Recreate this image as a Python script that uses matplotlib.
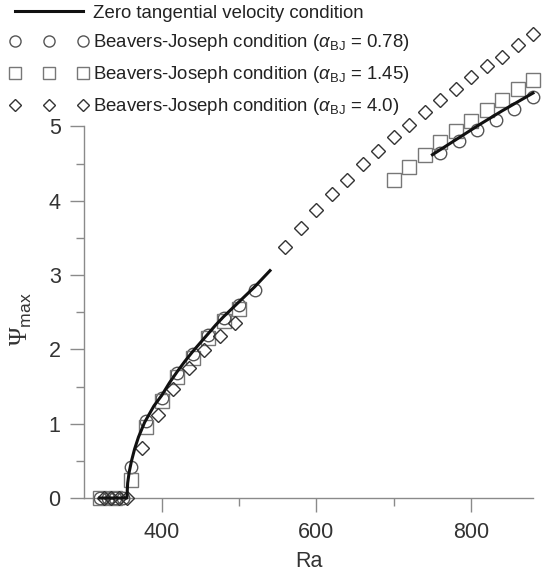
import numpy as np
import matplotlib.pyplot as plt
from matplotlib.lines import Line2D

plt.rcParams['font.family'] = ['Liberation Sans', 'DejaVu Sans']
plt.rcParams['mathtext.fontset'] = 'custom'
plt.rcParams['mathtext.rm'] = 'Liberation Sans'
plt.rcParams['mathtext.it'] = 'Liberation Sans:italic'
plt.rcParams['mathtext.sf'] = 'Liberation Serif'

# zero tangential velocity condition (solid curves)
ra_line_low = [320, 355, 356, 358, 361, 365, 370, 378, 390, 400, 410, 420, 430, 440,
               450, 460, 470, 480, 490, 500, 510, 520, 530, 540]
psi_line_low = [0, 0, 0.20, 0.35, 0.50, 0.66, 0.82, 1.02, 1.24, 1.38, 1.55, 1.70, 1.84, 1.97,
                2.09, 2.21, 2.33, 2.44, 2.54, 2.64, 2.74, 2.84, 2.95, 3.06]
ra_line_high = [750, 780, 810, 840, 880]
psi_line_high = [4.62, 4.82, 5.02, 5.21, 5.45]

# Beavers-Joseph, alpha = 0.78 (circles)
ra_c = [320, 330, 340, 350, 360, 380, 400, 420, 440, 460, 480, 500, 520,
        760, 784, 808, 832, 856, 880]
psi_c = [0, 0, 0, 0, 0.42, 1.03, 1.35, 1.68, 1.94, 2.19, 2.42, 2.60, 2.80,
         4.64, 4.80, 4.95, 5.09, 5.23, 5.40]

# Beavers-Joseph, alpha = 1.45 (squares)
ra_s = [320, 340, 360, 380, 400, 420, 440, 460, 480, 500,
        700, 720, 740, 760, 780, 800, 820, 840, 860, 880]
psi_s = [0, 0, 0.24, 0.96, 1.30, 1.63, 1.89, 2.15, 2.38, 2.54,
         4.28, 4.45, 4.62, 4.79, 4.94, 5.08, 5.22, 5.36, 5.50, 5.63]

# Beavers-Joseph, alpha = 4.0 (diamonds)
ra_d = [325, 335, 345, 355, 375, 395, 415, 435, 455, 475, 495,
        560, 580, 600, 620, 640, 660, 680, 700, 720, 740, 760, 780, 800, 820, 840, 860, 880]
psi_d = [0, 0, 0, 0, 0.67, 1.12, 1.47, 1.75, 1.99, 2.18, 2.36,
         3.38, 3.64, 3.87, 4.09, 4.28, 4.50, 4.67, 4.86, 5.02, 5.19, 5.36, 5.51, 5.66, 5.81, 5.94, 6.10, 6.24]

fig = plt.figure(figsize=(5.42, 5.79), dpi=100)
ax = fig.add_axes([0.1556, 0.1399, 0.8278, 0.8085])

grey = '#8a8a8a'
ax.plot(ra_c, psi_c, 'o', ms=9, mfc='none', mec='#555555', mew=1.0, clip_on=False, zorder=3)
ax.plot(ra_s, psi_s, 's', ms=10, mfc='none', mec='#777777', mew=1.0, clip_on=False, zorder=3)
ax.plot(ra_d, psi_d, 'D', ms=7.5, mfc='none', mec='#333333', mew=1.0, clip_on=False, zorder=3)
ax.plot(ra_line_low, psi_line_low, '-', color='#111111', lw=2.2, clip_on=False, zorder=4)
ax.plot(ra_line_high, psi_line_high, '-', color='#111111', lw=2.2, clip_on=False, zorder=4)

ax.set_xlim(300, 880)
ax.set_ylim(0, 6.3)
ax.spines['top'].set_visible(False)
ax.spines['right'].set_visible(False)
ax.spines['left'].set_bounds(0, 5)
for s in ['left', 'bottom']:
    ax.spines[s].set_color(grey)
    ax.spines[s].set_linewidth(1.0)

ax.set_xticks([400, 600, 800])
ax.set_xticks([500, 700], minor=True)
ax.set_yticks([0, 1, 2, 3, 4, 5])
ax.set_yticks([0.5, 1.5, 2.5, 3.5, 4.5], minor=True)
ax.tick_params(which='major', direction='out', length=10, width=1, color=grey,
               labelsize=15.5, labelcolor='#333333', pad=7)
ax.tick_params(which='minor', direction='out', length=5.5, width=1, color=grey)

ax.set_xlabel('Ra', fontsize=15.5, color='#333333', labelpad=6)
ax.set_ylabel(r'$\mathsf{\Psi}_{\rm max}$', fontsize=18, color='#333333')
ax.yaxis.set_label_coords(-0.112, 2.4 / 6.3)

handles = [
    Line2D([], [], color='#111111', lw=2.2),
    Line2D([], [], ls='none', marker='o', ms=8, mfc='none', mec='#555555'),
    Line2D([], [], ls='none', marker='s', ms=8, mfc='none', mec='#777777'),
    Line2D([], [], ls='none', marker='D', ms=6.5, mfc='none', mec='#333333'),
]
labels = [
    'Zero tangential velocity condition',
    r'Beavers-Joseph condition ($\alpha_{\rm BJ}$ = 0.78)',
    r'Beavers-Joseph condition ($\alpha_{\rm BJ}$ = 1.45)',
    r'Beavers-Joseph condition ($\alpha_{\rm BJ}$ = 4.0)',
]
leg = fig.legend(handles, labels, loc='upper left', bbox_to_anchor=(0.008, 1.0),
                 frameon=False, fontsize=13.4, numpoints=3, handlelength=4.3,
                 handletextpad=0.2, labelspacing=0.58, borderaxespad=0.1,
                 borderpad=0.15)
for t in leg.get_texts():
    t.set_color('#222222')

fig.savefig('out.png', dpi=100)
